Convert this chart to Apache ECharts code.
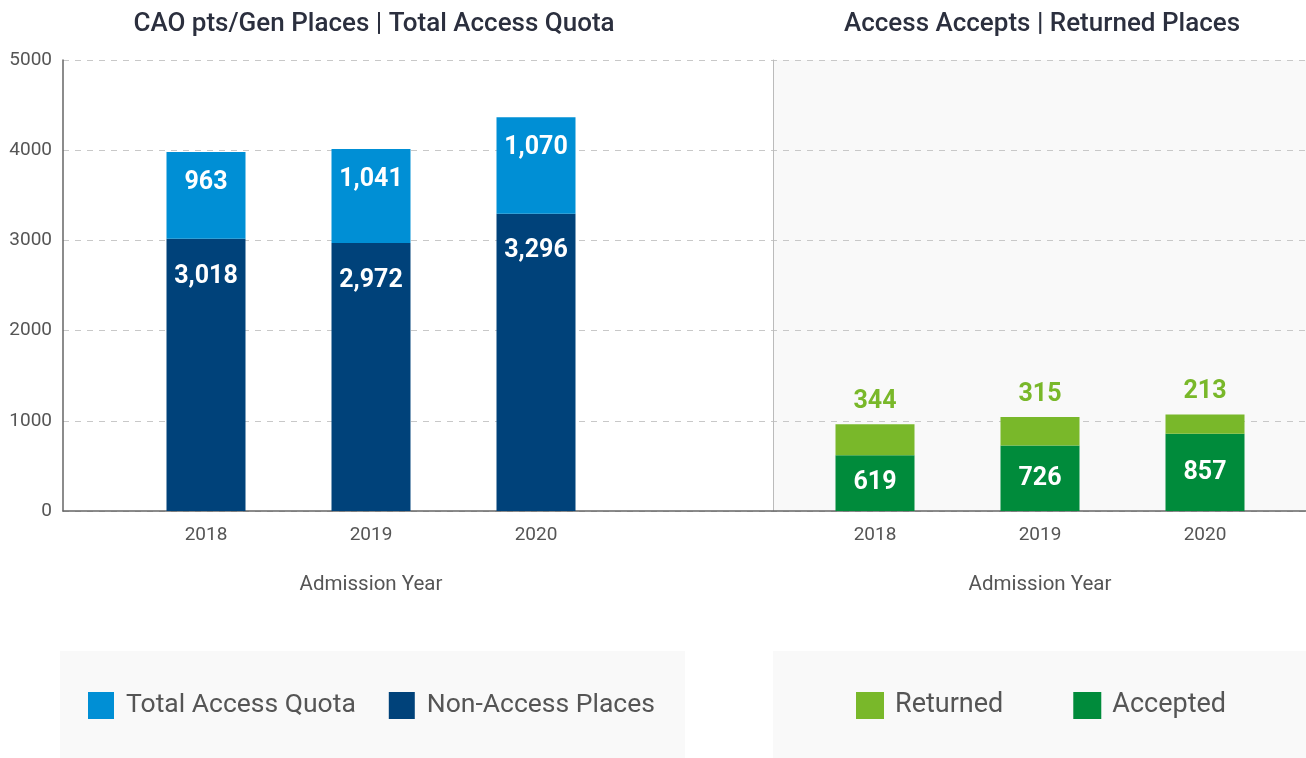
<!DOCTYPE html>
<html>
<head>
<meta charset="utf-8">
<script src="https://cdn.jsdelivr.net/npm/echarts@6/dist/echarts.min.js"></script>
<style>
  html, body { margin: 0; padding: 0; background: #fff; }
  #chart { width: 1306px; height: 758px; }
</style>
</head>
<body>
<div id="chart"></div>
<script>
const years = ['2018', '2019', '2020']
const nonAccess = [3018, 2972, 3296]
const accessQuota = [963, 1041, 1070]
const accepted = [619, 726, 857]
const returned = [344, 315, 213]
const yTicks = [0, 1000, 2000, 3000, 4000, 5000]

const font = 'Roboto'
const grey = '#555'
const fmt = (p) => p.value.toLocaleString('en-US')

const hiddenY = (grid) => ({
  type: 'value', gridIndex: grid, min: 0, max: 5000, interval: 1000,
  show: false, splitLine: { show: false }
})
const yearAxis = (grid) => ({
  type: 'category', gridIndex: grid, data: years,
  axisLine: { show: false }, axisTick: { show: false },
  axisLabel: { color: grey, fontSize: 19, fontFamily: font, margin: 15 },
  name: 'Admission Year', nameLocation: 'middle', nameGap: 63,
  nameTextStyle: { color: grey, fontSize: 20.5, fontFamily: font }
})

const chart = echarts.init(document.getElementById('chart'))
chart.setOption({
  animation: false,
  title: [
    { text: 'CAO pts/Gen Places | Total Access Quota', left: 369, top: 6, textAlign: 'center',
      textStyle: { color: '#2b2f3e', fontSize: 26, fontWeight: 500, fontFamily: font } },
    { text: 'Access Accepts | Returned Places', left: 1037, top: 6, textAlign: 'center',
      textStyle: { color: '#2b2f3e', fontSize: 26, fontWeight: 500, fontFamily: font } }
  ],
  graphic: [
    { type: 'rect', left: 60, top: 651, shape: { width: 625, height: 107 }, style: { fill: '#f9f9f9' }, z: -10 },
    { type: 'rect', left: 773, top: 651, shape: { width: 533, height: 107 }, style: { fill: '#f9f9f9' }, z: -10 }
  ],
  legend: [
    { data: ['Total Access Quota', 'Non-Access Places'], left: 88, top: 692, padding: 0,
      itemWidth: 26, itemHeight: 27, itemGap: 33, icon: 'rect',
      textStyle: { color: grey, fontSize: 26.5, fontFamily: font, padding: [0, 0, 0, 7] } },
    { data: ['Returned', 'Accepted'], left: 856, top: 692, padding: 0,
      itemWidth: 28, itemHeight: 27, itemGap: 70, icon: 'rect',
      textStyle: { color: grey, fontSize: 27, fontFamily: font, padding: [0, 0, 0, 6] } }
  ],
  grid: [
    { left: 63, right: 0, top: 60, bottom: 247 },
    { left: 773, right: 0, top: 60, bottom: 247, show: true, backgroundColor: '#f9f9f9', borderWidth: 0 },
    { left: 123.5, width: 495, top: 60, bottom: 247 },
    { left: 792.5, width: 495, top: 60, bottom: 247 }
  ],
  xAxis: [
    { type: 'category', gridIndex: 0, data: [''], axisTick: { show: false }, axisLabel: { show: false },
      axisLine: { lineStyle: { color: '#666', width: 1.5 } } },
    { type: 'category', gridIndex: 1, data: [''], show: false },
    yearAxis(2),
    yearAxis(3)
  ],
  yAxis: [
    { type: 'value', gridIndex: 0, min: 0, max: 5000, interval: 1000,
      axisLine: { show: true, lineStyle: { color: '#666', width: 1.5 } }, axisTick: { show: false },
      axisLabel: { color: grey, fontSize: 19, fontFamily: font, margin: 11,
        formatter: (v) => yTicks.includes(v) ? String(v) : '' },
      splitLine: { lineStyle: { color: '#c8c8c8', type: [6, 6] } } },
    { type: 'value', gridIndex: 1, min: 0, max: 5000, interval: 1000,
      axisLine: { show: true, lineStyle: { color: '#bbb' } }, axisTick: { show: false },
      axisLabel: { show: false }, splitLine: { show: false } },
    hiddenY(2),
    hiddenY(3)
  ],
  series: [
    { name: 'Non-Access Places', type: 'bar', stack: 'left', xAxisIndex: 2, yAxisIndex: 2,
      data: nonAccess, barWidth: 79, itemStyle: { color: '#00427a' },
      label: { show: true, position: 'insideTop', distance: 25, color: '#fff', fontSize: 25,
        fontWeight: 'bold', fontFamily: font, formatter: fmt } },
    { name: 'Total Access Quota', type: 'bar', stack: 'left', xAxisIndex: 2, yAxisIndex: 2,
      data: accessQuota, barWidth: 79, itemStyle: { color: '#008fd5' },
      label: { show: true, position: 'insideTop', distance: 18, color: '#fff', fontSize: 25,
        fontWeight: 'bold', fontFamily: font, formatter: fmt } },
    { name: 'Accepted', type: 'bar', stack: 'right', xAxisIndex: 3, yAxisIndex: 3,
      data: accepted, barWidth: 79, itemStyle: { color: '#008b3b' },
      label: { show: true, position: 'inside', color: '#fff', fontSize: 25,
        fontWeight: 'bold', fontFamily: font, formatter: fmt } },
    { name: 'Returned', type: 'bar', stack: 'right', xAxisIndex: 3, yAxisIndex: 3,
      data: returned, barWidth: 79, itemStyle: { color: '#79b82a' },
      label: { show: true, position: 'top', distance: 10, color: '#79b82a', fontSize: 25,
        fontWeight: 'bold', fontFamily: font, formatter: fmt } }
  ]
})
</script>
</body>
</html>
